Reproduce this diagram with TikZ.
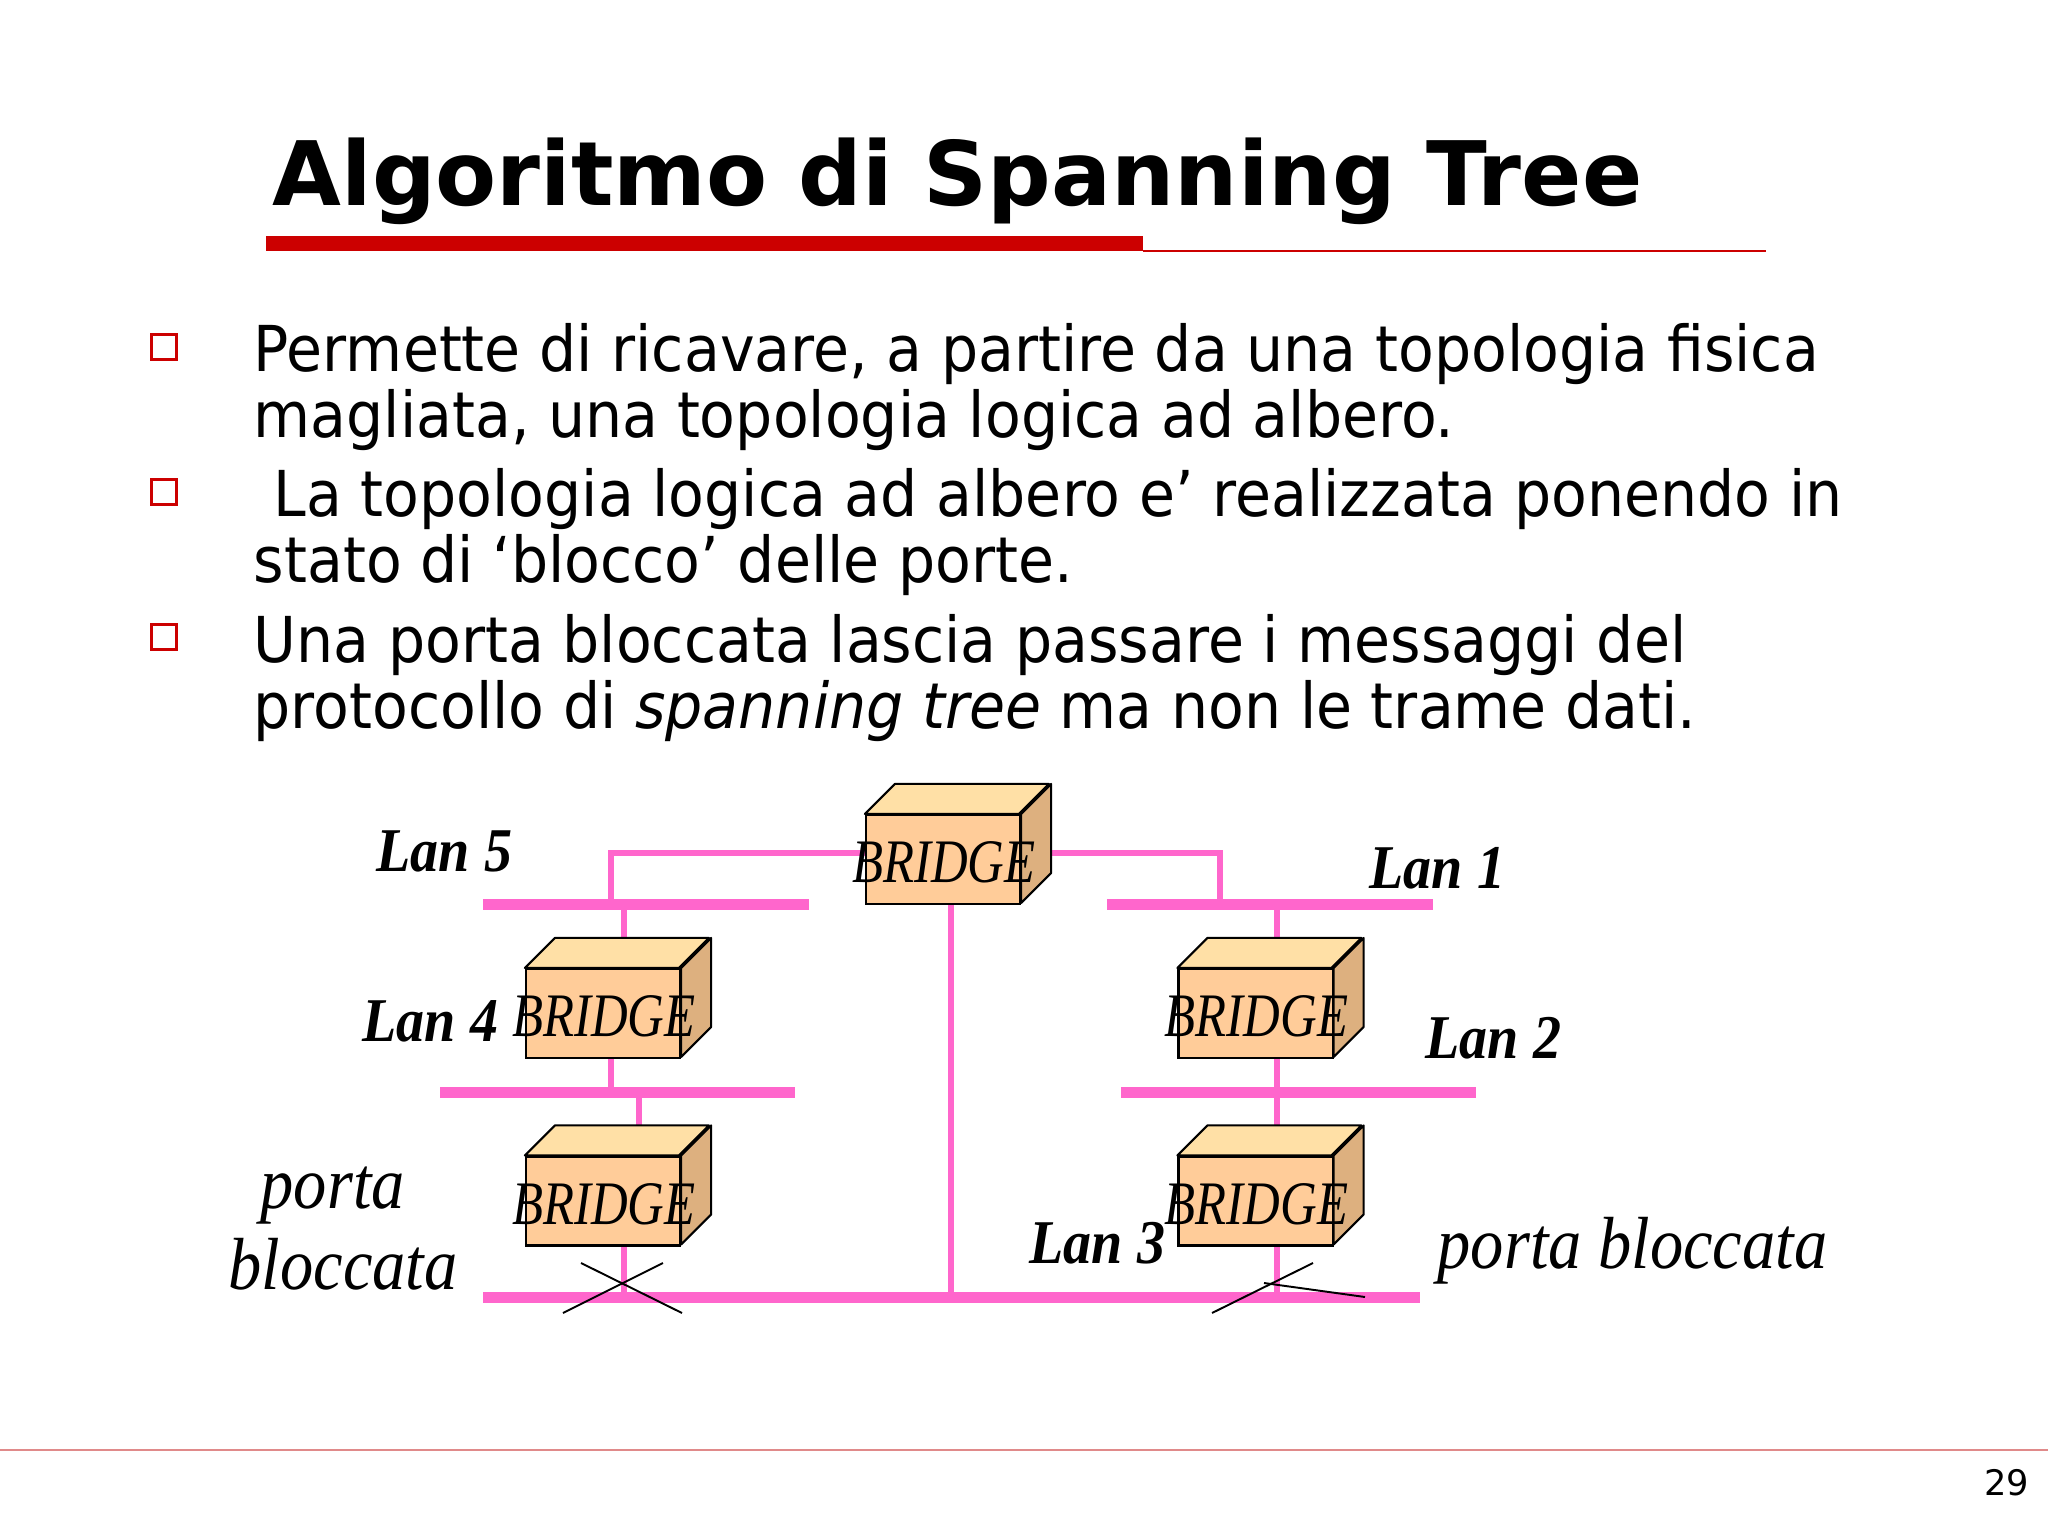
\documentclass[tikz,border=0pt]{standalone}
\usepackage{fontspec}
\setmainfont{DejaVu Sans}
\newfontfamily\bodyfont[FakeStretch=0.925]{DejaVu Sans}
\newfontfamily\figfont[FakeStretch=0.9]{Liberation Serif}
\newfontfamily\boxfont[FakeStretch=0.82]{Liberation Serif}
\usepackage{xcolor}
\usepackage{tikz}
\usetikzlibrary{positioning}
\definecolor{cred}{HTML}{CC0000}
\definecolor{crule}{HTML}{E08A8A}
\definecolor{cpink}{HTML}{FF66CC}
\definecolor{cfront}{HTML}{FFCC99}
\definecolor{ctop}{HTML}{FFE0A6}
\definecolor{cside}{HTML}{DDB07F}
\tikzset{
  slidetitle/.style={anchor=base west,inner sep=0pt,font=\fontsize{25.3}{30}\selectfont\bfseries},
  bodytext/.style={anchor=west,inner sep=0pt,align=left,font=\bodyfont\fontsize{18}{18.8}\selectfont},
  bulletbox/.style={draw=cred,line width=1pt,fill=white,minimum size=0.25cm,inner sep=0pt},
  lanbar/.style={fill=cpink,minimum height=0.11cm,inner sep=0pt},
  link/.style={draw=cpink,line width=1.55pt},
  brface/.style={draw=black,fill=cfront,line width=0.6pt,minimum width=1.54cm,minimum height=0.89cm,inner sep=0pt},
  brpart/.style={draw=black,line width=0.6pt,line join=round},
  brlab/.style={inner sep=0pt,font=\boxfont\itshape\fontsize{17.6}{20}\selectfont},
  lanlab/.style={anchor=base west,inner sep=0pt,font=\figfont\itshape\bfseries\fontsize{17.7}{22}\selectfont},
  portlab/.style={anchor=base west,inner sep=0pt,font=\figfont\itshape\fontsize{21}{27}\selectfont},
  crossline/.style={draw=black,line width=0.55pt},
}
\newcommand{\bridgebox}[3]{%
  \node[brface] (#1) at (#2,#3) {};
  \draw[brpart,fill=ctop] (#1.north west) -- ++(30,-30) -- ++(154,0) -- ++(-30,30) -- cycle;
  \draw[brpart,fill=cside] (#1.north east) -- ++(30,-30) -- ++(0,89) -- ++(-30,30) -- cycle;
  \node[brlab] (#1txt) at (#2+1,#3+3) {BRIDGE};
}
\begin{document}
\begin{tikzpicture}[x=0.01cm,y=-0.01cm]
  \useasboundingbox (0,0) rectangle (2048,1536);

  % heading and its rule
  \node[slidetitle] (head) at (272,205) {Algoritmo di Spanning Tree};
  \fill[cred] (266,236) rectangle (1143,251);
  \draw[cred,line width=0.4pt] (1143,251) -- (1766,251);

  % bullets
  \node[bulletbox] (bu1) at (164,347) {};
  \node[bulletbox] (bu2) at (164,492) {};
  \node[bulletbox] (bu3) at (164,637) {};
  \node[bodytext] (tx1) at (253,387) {Permette di ricavare, a partire da una topologia fisica\\magliata, una topologia logica ad albero.};
  \node[bodytext] (tx2) at (253,532) {\hspace{0.2cm}La topologia logica ad albero e’ realizzata ponendo in\\stato di ‘blocco’ delle porte.};
  \node[bodytext] (tx3) at (253,678) {Una porta bloccata lascia passare i messaggi del\\protocollo di \textit{spanning tree} ma non le trame dati.};

  % lans
  \coordinate (tapa) at (611,853);
  \coordinate (tapb) at (1220,853);
  \coordinate (tapc) at (951,904);
  \coordinate (tapd) at (624,938);
  \coordinate (tape) at (611,1058);
  \coordinate (tapf) at (639,1126);
  \coordinate (tapg) at (624,1246);
  \coordinate (taph) at (1277,938);
  \coordinate (tapi) at (1277,1058);
  \coordinate (tapj) at (1277,1126);
  \coordinate (tapk) at (1277,1246);
  \node[lanbar,minimum width=3.26cm] (lanfive) at (646,904) {};
  \node[lanbar,minimum width=3.55cm] (lanfour) at (617.5,1092) {};
  \node[lanbar,minimum width=3.26cm] (lanone) at (1270,904) {};
  \node[lanbar,minimum width=3.55cm] (lantwo) at (1298.5,1092) {};
  \node[lanbar,minimum width=9.37cm] (lanthree) at (951.5,1297) {};

  % links go under the boxes
  \draw[link] (tapa |- lanfive) -- (tapa) -- (866,853);
  \draw[link] (tapb |- lanone) -- (tapb) -- (1051,853);
  \draw[link] (tapc) -- (tapc |- lanthree);
  \draw[link] (tapd |- lanfive) -- (tapd);
  \draw[link] (tape) -- (tape |- lanfour);
  \draw[link] (tapf |- lanfour) -- (tapf);
  \draw[link] (tapg) -- (tapg |- lanthree);
  \draw[link] (taph |- lanone) -- (taph);
  \draw[link] (tapi) -- (tapj);
  \draw[link] (tapk) -- (tapk |- lanthree);

  \bridgebox{brcen}{943}{859.5}
  \bridgebox{brltop}{603}{1013.5}
  \bridgebox{brlbot}{603}{1201}
  \bridgebox{brrtop}{1255.5}{1013.5}
  \bridgebox{brrbot}{1255.5}{1201}

  \node[lanlab] (lfive) at (376,871) {Lan 5};
  \node[lanlab] (lfour) at (362,1041) {Lan 4};
  \node[lanlab] (lone) at (1369,888) {Lan 1};
  \node[lanlab] (ltwo) at (1425,1058) {Lan 2};
  \node[lanlab] (lthree) at (1029,1263) {Lan 3};

  \node[portlab] (pa) at (260,1208) {porta};
  \node[portlab] (pb) at (228,1289) {bloccata};
  \node[portlab] (pc) at (1437,1268) {porta bloccata};

  % blocked ports
  \draw[crossline] (581,1263) -- (682,1313);
  \draw[crossline] (663,1263) -- (563,1313);
  \draw[crossline] (1313,1263) -- (1212,1313);
  \draw[crossline] (1264,1283) -- (1365,1297);

  % footer
  \draw[crule,line width=0.4pt] (0,1450) -- (2048,1450);
  \node[anchor=base east,inner sep=0pt,font=\fontsize{10}{12}\selectfont] (pnum) at (2030,1495) {29};
\end{tikzpicture}
\end{document}
